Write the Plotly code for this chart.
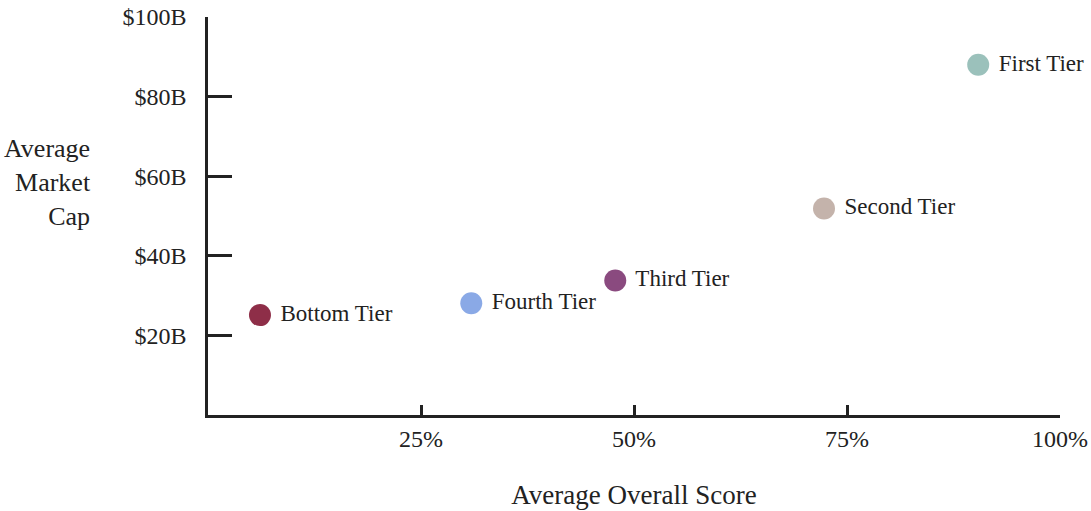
import plotly.graph_objects as go

tiers = ["Bottom Tier", "Fourth Tier", "Third Tier", "Second Tier", "First Tier"]
score_pct = [6.1, 30.9, 47.8, 72.3, 90.4]
market_cap_b = [25.1, 28.1, 33.8, 51.9, 88.0]
colors = ["#8e2e48", "#8aa9e6", "#8a4a7f", "#c4b3ab", "#9bc1bb"]

x_ticks = [25, 50, 75, 100]
x_tick_labels = ["25%", "50%", "75%", "100%"]
y_ticks = [20, 40, 60, 80, 100]
y_tick_labels = ["$20B", "$40B", "$60B", "$80B", "$100B"]

FONT = "Liberation Serif"

fig = go.Figure(go.Scatter(
    x=score_pct, y=market_cap_b, mode="markers+text",
    text=[" " + t for t in tiers], textposition="middle right",
    textfont=dict(family=FONT, size=23, color="#222"),
    marker=dict(size=22, color=colors, line=dict(width=0)),
    cliponaxis=False, hoverinfo="skip",
))

axis_common = dict(showgrid=False, zeroline=False, showline=True,
                   linecolor="#222", linewidth=2.5, ticks="inside",
                   tickcolor="#222", tickwidth=2.5, automargin=False,
                   tickfont=dict(family=FONT, size=24, color="#222"))

fig.update_layout(
    width=1091, height=511,
    margin=dict(l=208, r=31, t=17, b=96),
    paper_bgcolor="white", plot_bgcolor="white",
    showlegend=False,
    xaxis=dict(range=[0, 100], tickvals=x_ticks, ticktext=x_tick_labels,
               ticklen=10, ticklabelstandoff=0,
               title=dict(text="Average Overall Score", standoff=35,
                          font=dict(family=FONT, size=27, color="#222")),
               **axis_common),
    yaxis=dict(range=[0, 100], tickvals=y_ticks, ticktext=y_tick_labels,
               ticklen=24, ticklabelstandoff=14, **axis_common),
    annotations=[dict(text="Average<br>Market<br>Cap", xref="paper", yref="paper",
                      x=-0.135, y=0.585, xanchor="right", yanchor="middle",
                      showarrow=False, align="right",
                      font=dict(family=FONT, size=26, color="#222"))],
)

fig.write_html("out.html", config={"displayModeBar": False},
               post_script="document.body.style.margin='0px';")
